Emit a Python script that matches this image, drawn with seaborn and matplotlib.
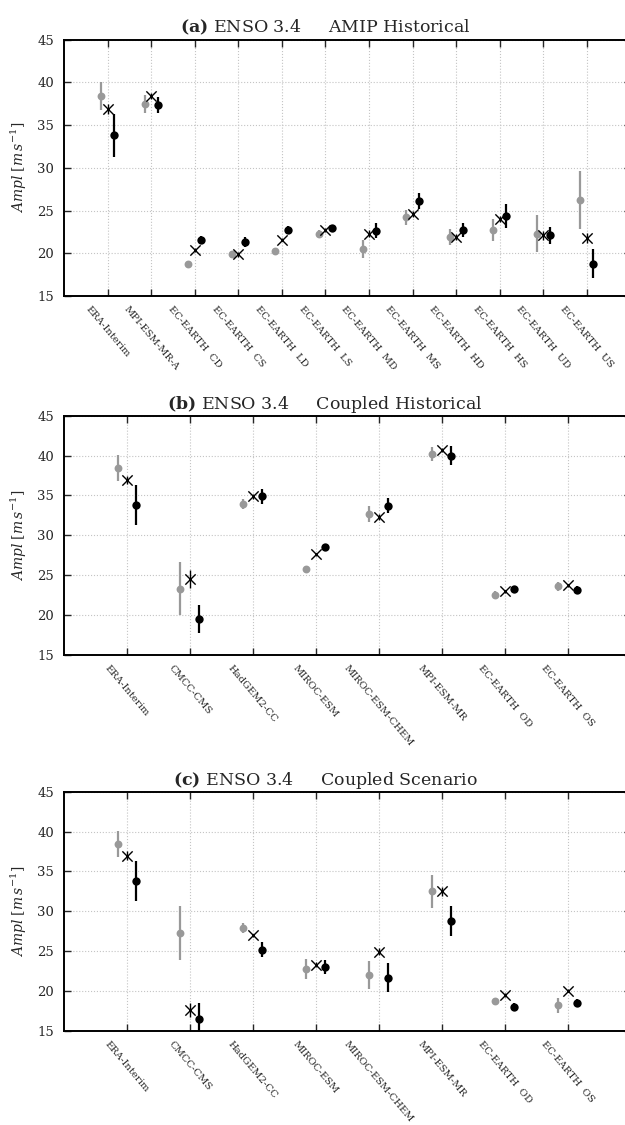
import numpy as np
import pandas as pd
import matplotlib
matplotlib.use("Agg")
import matplotlib.pyplot as plt
import seaborn as sns

# ---- data ----
# panel (a): AMIP historical
models_a = ["ERA-Interim", "MPI-ESM-MR-A", "EC-EARTH  CD", "EC-EARTH  CS", "EC-EARTH  LD",
            "EC-EARTH  LS", "EC-EARTH  MD", "EC-EARTH  MS", "EC-EARTH  HD", "EC-EARTH  HS",
            "EC-EARTH  UD", "EC-EARTH  US"]
grey_a = [38.4, 37.5, 18.8, 19.9, 20.3, 22.3, 20.5, 24.2, 21.9, 22.7, 22.3, 26.2]
grey_err_a = [1.65, 1.05, 0.3, 0.4, 0.3, 0.45, 1.1, 0.9, 0.9, 1.3, 2.2, 3.4]
cross_a = [36.9, 38.4, 20.4, 19.9, 21.6, 22.7, 22.3, 24.6, 21.9, 24.0, 22.1, 21.8]
cross_err_a = [0.55, 0.4, 0.2, 0.3, 0.2, 0.2, 0.4, 0.3, 0.3, 0.4, 0.5, 0.6]
black_a = [33.8, 37.35, 21.6, 21.3, 22.7, 23.0, 22.65, 26.1, 22.7, 24.4, 22.1, 18.8]
black_err_a = [2.5, 0.95, 0.4, 0.55, 0.5, 0.3, 0.9, 0.9, 0.85, 1.4, 1.0, 1.7]

# panel (b): coupled historical
models_b = ["ERA-Interim", "CMCC-CMS", "HadGEM2-CC", "MIROC-ESM", "MIROC-ESM-CHEM",
            "MPI-ESM-MR", "EC-EARTH  OD", "EC-EARTH  OS"]
grey_b = [38.4, 23.3, 33.9, 25.8, 32.7, 40.2, 22.5, 23.6]
grey_err_b = [1.65, 3.3, 0.6, 0.35, 1.0, 0.9, 0.5, 0.6]
cross_b = [36.95, 24.5, 34.9, 27.6, 32.3, 40.7, 23.0, 23.75]
cross_err_b = [0.55, 1.15, 0.3, 0.2, 0.4, 0.3, 0.2, 0.2]
black_b = [33.8, 19.5, 34.9, 28.5, 33.7, 40.0, 23.3, 23.1]
black_err_b = [2.5, 1.8, 0.95, 0.45, 0.95, 1.15, 0.4, 0.5]

# panel (c): coupled scenario
models_c = models_b
grey_c = [38.45, 27.3, 27.9, 22.8, 22.0, 32.5, 18.7, 18.2]
grey_err_c = [1.65, 3.4, 0.6, 1.25, 1.8, 2.1, 0.45, 0.95]
cross_c = [36.95, 17.6, 27.0, 23.3, 24.95, 32.5, 19.5, 20.05]
cross_err_c = [0.55, 0.85, 0.2, 0.3, 0.4, 0.6, 0.2, 0.2]
black_c = [33.8, 16.5, 25.2, 23.0, 21.7, 28.8, 18.05, 18.55]
black_err_c = [2.5, 2.0, 0.9, 0.9, 1.8, 1.85, 0.5, 0.45]

sns.set_style("ticks")
plt.rcParams['font.family'] = ['DejaVu Serif']
plt.rcParams['mathtext.fontset'] = 'dejavuserif'

GREY = '#999999'
OFF = 0.15


def draw_panel(ax, models, grey, grey_err, cross, cross_err, black, black_err, tag, title):
    pos = np.arange(1, len(models) + 1)
    df = pd.DataFrame({"pos": pos, "grey": grey, "grey_err": grey_err,
                       "cross": cross, "cross_err": cross_err,
                       "black": black, "black_err": black_err})

    # error bars
    ax.errorbar(df["pos"] - OFF, df["grey"], yerr=df["grey_err"], fmt='none',
                ecolor=GREY, elinewidth=1.6, capsize=0, zorder=2)
    ax.errorbar(df["pos"], df["cross"], yerr=df["cross_err"], fmt='none',
                ecolor='black', elinewidth=1.0, capsize=0, zorder=2)
    ax.errorbar(df["pos"] + OFF, df["black"], yerr=df["black_err"], fmt='none',
                ecolor='black', elinewidth=1.6, capsize=0, zorder=2)

    # markers
    sns.scatterplot(x=df["pos"] - OFF, y=df["grey"], ax=ax, color=GREY, marker='o',
                    s=32, linewidth=0, zorder=3)
    sns.scatterplot(x=df["pos"], y=df["cross"], ax=ax, color='black', marker='x',
                    s=55, linewidth=1.0, zorder=3)
    sns.scatterplot(x=df["pos"] + OFF, y=df["black"], ax=ax, color='black', marker='o',
                    s=36, linewidth=0, zorder=3)

    ax.set_xlim(0, len(models) + 1)
    ax.set_ylim(15, 45)
    ax.set_yticks(np.arange(15, 46, 5))
    ax.tick_params(direction='in', top=True, right=True, length=5, width=1, pad=7)
    ax.tick_params(axis='y', labelsize=9.5)
    ax.tick_params(axis='x', pad=6)
    ax.set_xticks(pos)
    ax.set_xticklabels(models, rotation=-50, ha='center', va='top', fontsize=7.2)

    ax.set_xlabel("")
    ax.set_ylabel(r"$Ampl\ [m\,s^{-1}]$", fontsize=10, labelpad=6)
    ax.grid(True, linestyle=':', color='#c4c4c4', linewidth=0.8)
    for sp in ax.spines.values():
        sp.set_linewidth(1.4)
        sp.set_color('black')
    ax.set_title(r"$\mathbf{(" + tag + r")}$ ENSO 3.4     " + title,
                 fontsize=12.5, x=0.461, pad=5)


fig = plt.figure(figsize=(6.25, 11.25), dpi=100)
ax_a = fig.add_axes([0.1024, 0.7369, 0.9064, 0.2279])
ax_b = fig.add_axes([0.1024, 0.4178, 0.9064, 0.2127])
ax_c = fig.add_axes([0.1024, 0.0836, 0.9064, 0.2127])

draw_panel(ax_a, models_a, grey_a, grey_err_a, cross_a, cross_err_a, black_a, black_err_a,
           "a", "AMIP Historical")
draw_panel(ax_b, models_b, grey_b, grey_err_b, cross_b, cross_err_b, black_b, black_err_b,
           "b", "Coupled Historical")
draw_panel(ax_c, models_c, grey_c, grey_err_c, cross_c, cross_err_c, black_c, black_err_c,
           "c", "Coupled Scenario")

fig.savefig("out.png", dpi=100)
